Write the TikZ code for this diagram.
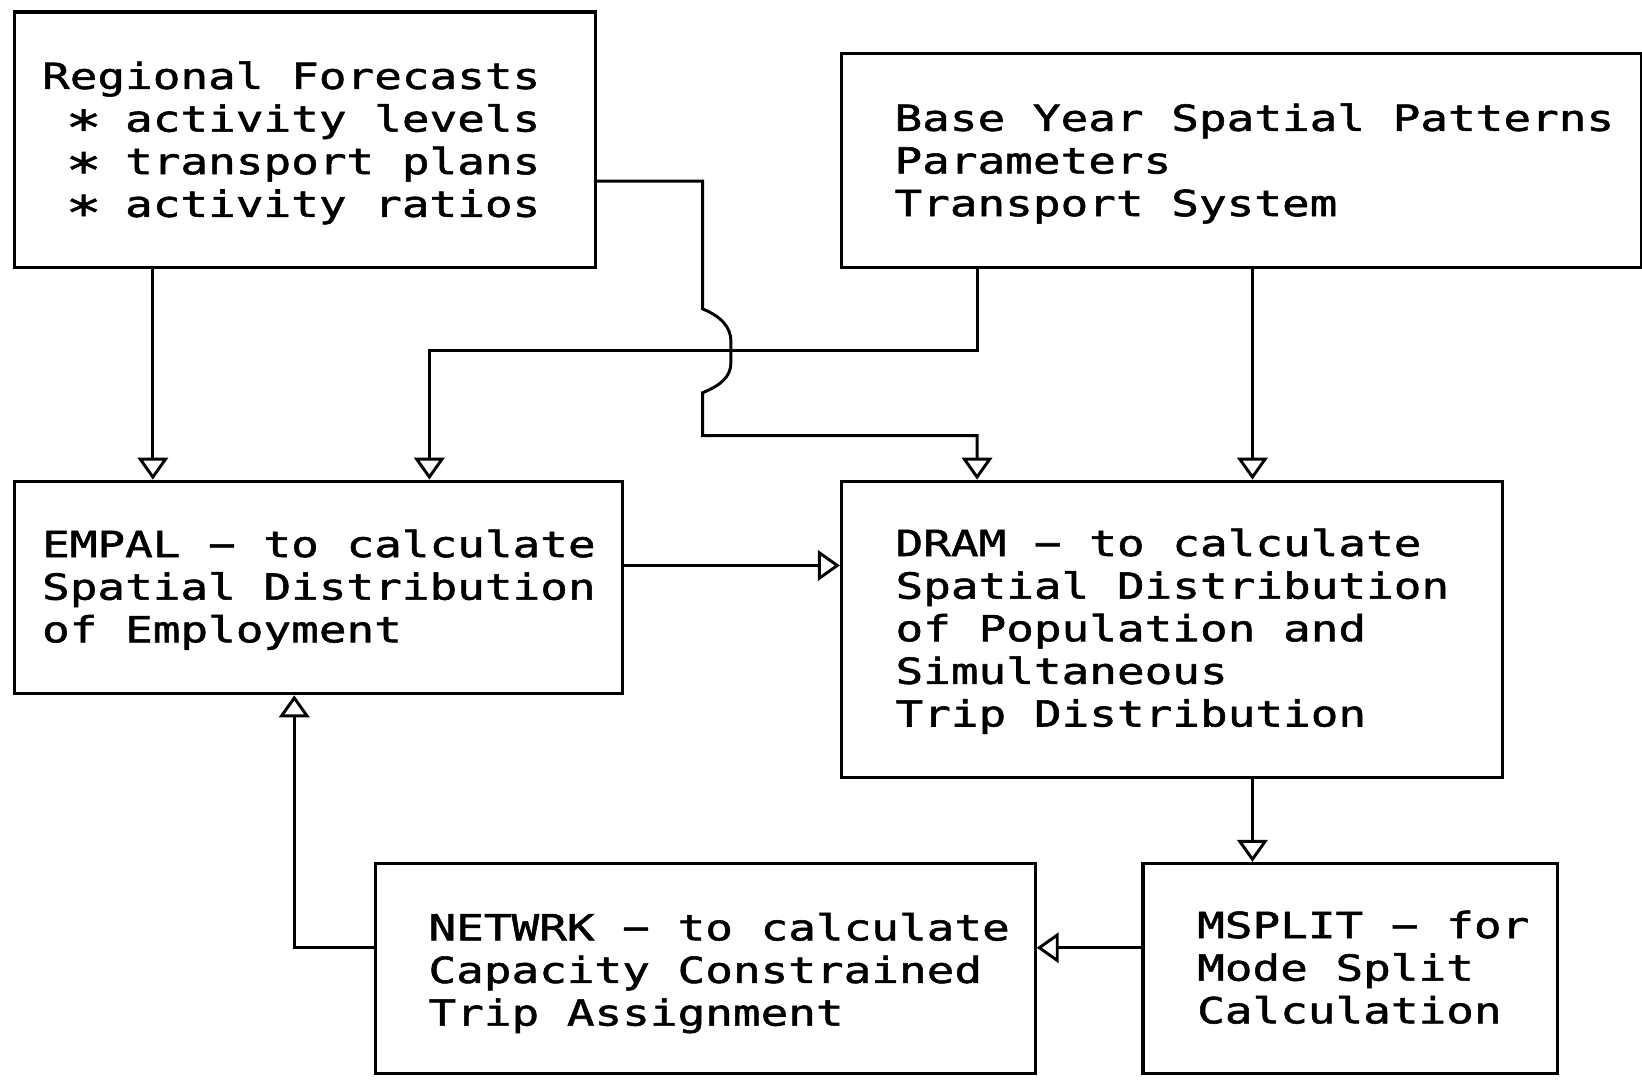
\documentclass[tikz,border=0pt]{standalone}
\usepackage{fontspec}
\newfontfamily\plotfont[FakeStretch=1.28,FakeBold=1.5]{DejaVu Sans Mono}
\usetikzlibrary{arrows.meta}
% one character cell of the mono font holding a bigger, lowered asterisk
\newcommand{\itemstar}{\makebox[26.43pt]{\raisebox{-12pt}{\scalebox{1.3}{*}}}}
\newcommand{\ind}{\phantom{R}}
\begin{document}
\begin{tikzpicture}[x=1pt,y=-1pt,
  blk/.style={draw, line width=3pt, rectangle, inner sep=0pt, anchor=north west},
  lbl/.style={anchor=north west, inner sep=0pt, align=left, yshift=28.5pt,
    font=\plotfont\fontsize{34.3}{40.7}\selectfont, execute at begin node=\strut},
  link/.style={line width=2.8pt, line join=miter, -{Triangle[open,length=21pt,width=29pt]}}]
\useasboundingbox (0,0) rectangle (1568,1032);
\fill[white] (0,0) rectangle (1568,1032);

% boxes
\node[blk, minimum width=555pt, minimum height=244pt] (rf)   at (12,10)    {};
\node[blk, minimum width=764pt, minimum height=204pt] (base) at (802,50)   {};
\node[blk, minimum width=581pt, minimum height=203pt] (empal) at (12,458)  {};
\node[blk, minimum width=631pt, minimum height=283pt] (dram) at (802,458)  {};
\node[blk, minimum width=630pt, minimum height=201pt] (netw) at (357,823)  {};
\node[blk, minimum width=396pt, minimum height=201pt] (mspl) at (1090,823) {};

% box texts
\node[lbl] (trf) at (40,87) {Regional Forecasts\\\ind\itemstar{} activity levels\\\ind\itemstar{} transport plans\\\ind\itemstar{} activity ratios};
\node[lbl] (tbase) at (854,127) {Base Year Spatial Patterns\\Parameters\\Transport System};
\node[lbl] (tempal) at (40,534) {EMPAL − to calculate\\Spatial Distribution\\of Employment};
\node[lbl] (tdram) at (855,533) {DRAM − to calculate\\Spatial Distribution\\of Population and\\Simultaneous\\Trip Distribution};
\node[lbl] (tnetw) at (409,900) {NETWRK − to calculate\\Capacity Constrained\\Trip Assignment};
\node[lbl] (tmspl) at (1143,898) {MSPLIT − for\\Mode Split\\Calculation};

% connectors
\draw[link] (146,0 |- rf.south) -- (146,0 |- empal.north);
\draw[link] (rf.east |- 0,173) -- (671,173) -- (671,295)
  .. controls (688,302) and (698,312) .. (698,326) -- (698,346)
  .. controls (698,360) and (688,368) .. (671,375)
  -- (671,416) -- (933,416) -- (933,0 |- dram.north);
\draw[link] (933,0 |- base.south) -- (933,335) -- (410,335) -- (410,0 |- empal.north);
\draw[link] (1196,0 |- base.south) -- (1196,0 |- dram.north);
\draw[link] (empal.east |- 0,540) -- (dram.west |- 0,540);
\draw[link] (1196,0 |- dram.south) -- (1196,0 |- mspl.north);
\draw[link] (mspl.west |- 0,905) -- (netw.east |- 0,905);
\draw[link] (netw.west |- 0,905) -- (281,905) -- (281,0 |- empal.south);
\end{tikzpicture}
\end{document}
